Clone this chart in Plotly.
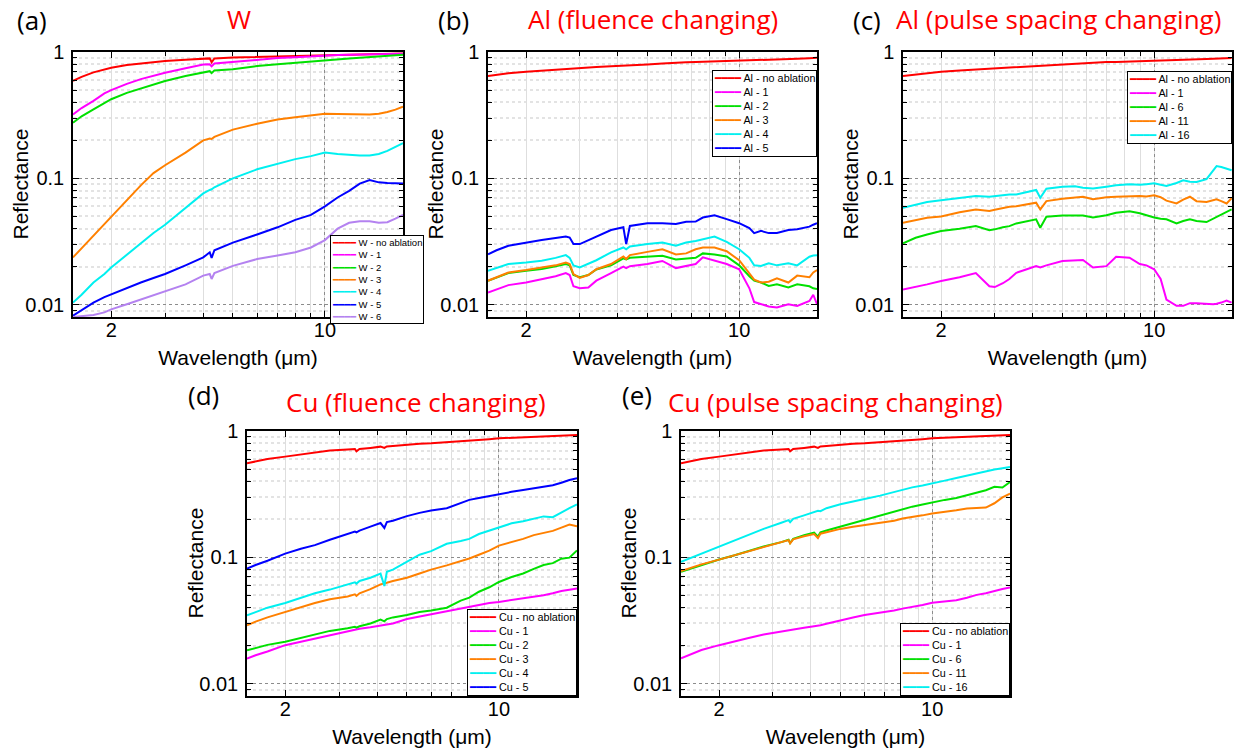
import math
import plotly.graph_objects as go

# ---------------- colours ----------------
RED = "#ff0000"
MAGENTA = "#ff00ff"
GREEN = "#00e000"
ORANGE = "#ff8000"
CYAN = "#00f0f0"
BLUE = "#0000ff"
PURPLE = "#b482f0"

# ---------------- (a) W ----------------
wl_a = [1.5, 1.6, 1.75, 1.9, 2.0, 2.25, 2.5, 2.75, 3.0, 3.5, 4.0, 4.2, 4.26, 4.35, 5.0, 6.0, 7.0,
        8.0, 9.0, 10.0, 11.0, 12.0, 13.0, 14.0, 15.0, 16.0, 17.0, 18.0]
W_no_ablation = [0.59, 0.635, 0.69, 0.73, 0.75, 0.79, 0.815, 0.835, 0.85, 0.87, 0.885, 0.89, 0.83, 0.89,
                 0.905, 0.915, 0.925, 0.935, 0.94, 0.945, 0.95, 0.955, 0.96, 0.965, 0.968, 0.97, 0.973, 0.975]
W_1 = [0.32, 0.36, 0.41, 0.47, 0.5, 0.56, 0.61, 0.65, 0.685, 0.745, 0.795, 0.80, 0.77, 0.81, 0.835,
       0.875, 0.895, 0.91, 0.925, 0.94, 0.945, 0.95, 0.955, 0.96, 0.963, 0.966, 0.968, 0.97]
W_2 = [0.276, 0.31, 0.352, 0.395, 0.423, 0.475, 0.516, 0.555, 0.59, 0.645, 0.695, 0.705, 0.68, 0.715,
       0.73, 0.775, 0.8, 0.823, 0.845, 0.864, 0.875, 0.888, 0.9, 0.91, 0.92, 0.93, 0.94, 0.95]
W_3 = [0.0237, 0.028, 0.035, 0.043, 0.0496, 0.067, 0.088, 0.11, 0.127, 0.16, 0.2, 0.207, 0.205, 0.213,
       0.243, 0.271, 0.292, 0.305, 0.316, 0.325, 0.323, 0.321, 0.32, 0.32, 0.325, 0.335, 0.35, 0.37]
W_4 = [0.0104, 0.012, 0.015, 0.0175, 0.0197, 0.025, 0.031, 0.037, 0.043, 0.058, 0.076, 0.081, 0.082,
       0.085, 0.1, 0.118, 0.13, 0.142, 0.15, 0.16, 0.156, 0.153, 0.152, 0.152, 0.156, 0.165, 0.177, 0.19]
W_5 = [0.0082, 0.009, 0.0104, 0.0115, 0.0121, 0.0135, 0.015, 0.0163, 0.0175, 0.0205, 0.0237, 0.026,
       0.0235, 0.027, 0.031, 0.036, 0.041, 0.047, 0.0514, 0.06, 0.0706, 0.0797, 0.091, 0.097, 0.093,
       0.092, 0.091, 0.091]
W_6 = [0.0080, 0.0081, 0.0083, 0.0087, 0.0092, 0.0101, 0.011, 0.0118, 0.0128, 0.0145, 0.017, 0.0175,
       0.016, 0.0178, 0.0203, 0.023, 0.0245, 0.026, 0.0284, 0.0325, 0.04, 0.0445, 0.0458, 0.0458,
       0.0445, 0.045, 0.048, 0.0515]
names_a = ["W - no ablation", "W - 1", "W - 2", "W - 3", "W - 4", "W - 5", "W - 6"]

# ---------------- (b) Al, fluence ----------------
wl_b = [1.5, 1.6, 1.75, 2.0, 2.25, 2.5, 2.7, 2.78, 2.86, 3.0, 3.2, 3.4, 3.8, 4.17, 4.26, 4.38, 5.0,
        5.6, 6.2, 6.7, 7.2, 7.6, 8.3, 9.1, 10.0, 10.8, 11.2, 11.8, 12.5, 13.3, 14.5, 15.5, 17.0,
        17.5, 18.0]
Alb_no_ablation = [0.646, 0.66, 0.68, 0.697, 0.712, 0.725, 0.732, 0.735, 0.74, 0.745, 0.752, 0.76,
                   0.77, 0.775, 0.776, 0.778, 0.795, 0.81, 0.825, 0.83, 0.832, 0.835, 0.84, 0.845,
                   0.85, 0.855, 0.857, 0.86, 0.865, 0.87, 0.878, 0.885, 0.893, 0.895, 0.9]
Alb_1 = [0.0125, 0.0132, 0.0143, 0.015, 0.016, 0.0168, 0.0178, 0.0172, 0.014, 0.0135, 0.0137, 0.0155,
         0.0178, 0.02, 0.0195, 0.0202, 0.021, 0.0222, 0.0195, 0.0203, 0.021, 0.0237, 0.0223, 0.021,
         0.0191, 0.0135, 0.0105, 0.0101, 0.0097, 0.0095, 0.0101, 0.0098, 0.0107, 0.012, 0.0101]
Alb_2 = [0.0155, 0.0165, 0.0178, 0.0186, 0.0192, 0.0202, 0.021, 0.0205, 0.0172, 0.0165, 0.0172, 0.019,
         0.0205, 0.0233, 0.0228, 0.0235, 0.0241, 0.0244, 0.0228, 0.023, 0.0235, 0.0255, 0.025, 0.0241,
         0.0205, 0.0168, 0.0155, 0.015, 0.0141, 0.0145, 0.0137, 0.0145, 0.014, 0.0135, 0.0133]
Alb_3 = [0.0155, 0.0165, 0.018, 0.0188, 0.0197, 0.0205, 0.0216, 0.021, 0.0175, 0.0163, 0.0172, 0.0191,
         0.021, 0.0241, 0.023, 0.0247, 0.0262, 0.0275, 0.025, 0.0255, 0.0275, 0.0284, 0.0284, 0.0265,
         0.0225, 0.0175, 0.0158, 0.015, 0.0152, 0.0162, 0.015, 0.017, 0.0165, 0.018, 0.0188]
Alb_4 = [0.0186, 0.0195, 0.021, 0.0216, 0.0223, 0.0235, 0.0247, 0.0235, 0.0205, 0.0197, 0.021, 0.0225,
         0.026, 0.0284, 0.0275, 0.0289, 0.0302, 0.0311, 0.0293, 0.0311, 0.032, 0.033, 0.0347, 0.0315,
         0.0275, 0.0235, 0.0205, 0.0203, 0.0213, 0.0205, 0.0213, 0.0205, 0.024, 0.0245, 0.0247]
Alb_5 = [0.0251, 0.027, 0.0293, 0.0311, 0.0325, 0.0337, 0.0347, 0.034, 0.0302, 0.0302, 0.0325, 0.0347,
         0.039, 0.041, 0.0302, 0.042, 0.0442, 0.0442, 0.0435, 0.0453, 0.0455, 0.049, 0.0511, 0.0476,
         0.0442, 0.0405, 0.0369, 0.0384, 0.0369, 0.0369, 0.039, 0.0396, 0.0415, 0.043, 0.0442]
names_b = ["Al - no ablation", "Al - 1", "Al - 2", "Al - 3", "Al - 4", "Al - 5"]

# ---------------- (c) Al, pulse spacing ----------------
wl_c = [1.5, 1.65, 1.8, 2.0, 2.3, 2.6, 2.88, 3.0, 3.19, 3.35, 3.53, 3.8, 4.1, 4.23, 4.43, 5.0, 5.5,
        5.84, 6.3, 6.97, 7.5, 8.3, 8.97, 9.43, 10.0, 10.5, 10.97, 11.84, 12.45, 13.1, 13.77, 14.85,
        15.62, 16.02, 16.6, 17.28, 17.95]
Alc_no_ablation = [0.646, 0.665, 0.68, 0.697, 0.715, 0.728, 0.735, 0.74, 0.748, 0.755, 0.76, 0.768,
                   0.775, 0.776, 0.78, 0.795, 0.808, 0.815, 0.826, 0.833, 0.835, 0.84, 0.844, 0.846,
                   0.849, 0.852, 0.855, 0.86, 0.865, 0.87, 0.874, 0.88, 0.885, 0.887, 0.89, 0.894, 0.897]
Alc_1 = [0.0132, 0.0138, 0.0145, 0.0154, 0.0165, 0.0178, 0.014, 0.0138, 0.0148, 0.016, 0.0179, 0.019,
         0.0202, 0.0197, 0.0205, 0.0222, 0.0224, 0.0226, 0.0197, 0.0202, 0.024, 0.0236, 0.021, 0.0205,
         0.0191, 0.016, 0.011, 0.0098, 0.0098, 0.0103, 0.0103, 0.0101, 0.0101, 0.0102, 0.0104, 0.0108,
         0.0104]
Alc_6 = [0.0306, 0.0339, 0.036, 0.0383, 0.04, 0.0419, 0.0389, 0.0395, 0.041, 0.0419, 0.044, 0.0455,
         0.0474, 0.0407, 0.0497, 0.0509, 0.051, 0.0509, 0.049, 0.051, 0.0535, 0.055, 0.053, 0.051,
         0.049, 0.048, 0.0474, 0.044, 0.046, 0.0474, 0.046, 0.0451, 0.048, 0.049, 0.051, 0.054, 0.0568]
Alc_11 = [0.0446, 0.047, 0.0488, 0.05, 0.054, 0.0568, 0.0552, 0.0565, 0.0585, 0.0597, 0.0603, 0.062,
          0.0642, 0.0568, 0.0661, 0.069, 0.0705, 0.0716, 0.0684, 0.071, 0.0716, 0.0725, 0.0725, 0.072,
          0.0734, 0.071, 0.0667, 0.0633, 0.068, 0.0716, 0.066, 0.0651, 0.0668, 0.0684, 0.066, 0.0633,
          0.0697]
Alc_16 = [0.0586, 0.062, 0.065, 0.067, 0.07, 0.0725, 0.0716, 0.0725, 0.074, 0.0747, 0.0747, 0.078,
          0.0809, 0.0703, 0.0829, 0.0859, 0.0865, 0.0843, 0.083, 0.086, 0.0881, 0.0897, 0.089, 0.09,
          0.0913, 0.089, 0.0871, 0.092, 0.0964, 0.094, 0.0936, 0.0985, 0.115, 0.125, 0.123, 0.12, 0.116]
names_c = ["Al - no ablation", "Al - 1", "Al - 6", "Al - 11", "Al - 16"]

# ---------------- (d) Cu, fluence ----------------
wl_d = [1.5, 1.6, 1.75, 2.0, 2.25, 2.5, 2.8, 3.2, 3.38, 3.42, 3.5, 3.8, 4.1, 4.22, 4.3, 4.5, 5.0, 5.5,
        6.0, 6.75, 7.5, 8.0, 8.6, 9.3, 10.0, 11.0, 12.0, 13.0, 14.0, 15.0, 16.0, 17.0, 18.0]
Cud_no_ablation = [0.556, 0.575, 0.6, 0.627, 0.65, 0.668, 0.7, 0.715, 0.72, 0.69, 0.72, 0.735, 0.752,
                   0.734, 0.755, 0.762, 0.78, 0.792, 0.8, 0.814, 0.83, 0.84, 0.849, 0.862, 0.875,
                   0.885, 0.895, 0.905, 0.912, 0.918, 0.922, 0.926, 0.93]
Cud_1 = [0.0158, 0.0168, 0.018, 0.0202, 0.0215, 0.0228, 0.0242, 0.0262, 0.0269, 0.0269, 0.0272, 0.028,
         0.029, 0.029, 0.0293, 0.03, 0.0325, 0.034, 0.0352, 0.037, 0.039, 0.0405, 0.042, 0.0435,
         0.0444, 0.046, 0.047, 0.049, 0.0501, 0.052, 0.0542, 0.0555, 0.0566]
Cud_2 = [0.0184, 0.0192, 0.0203, 0.0215, 0.023, 0.0243, 0.0262, 0.0275, 0.0282, 0.0278, 0.0285, 0.03,
         0.0322, 0.0312, 0.0325, 0.0335, 0.035, 0.037, 0.038, 0.04, 0.0455, 0.048, 0.0535, 0.058,
         0.0639, 0.07, 0.0745, 0.081, 0.087, 0.09, 0.0976, 0.0995, 0.1136]
Cud_3 = [0.029, 0.031, 0.0335, 0.037, 0.04, 0.0435, 0.0466, 0.049, 0.051, 0.0495, 0.052, 0.056,
         0.0612, 0.062, 0.063, 0.065, 0.069, 0.0745, 0.08, 0.0865, 0.093, 0.098, 0.105, 0.113, 0.124,
         0.132, 0.14, 0.15, 0.157, 0.162, 0.172, 0.182, 0.176]
Cud_4 = [0.0348, 0.037, 0.04, 0.0436, 0.048, 0.052, 0.0556, 0.061, 0.0635, 0.062, 0.065, 0.069,
         0.0743, 0.0594, 0.077, 0.08, 0.093, 0.105, 0.112, 0.128, 0.135, 0.14, 0.153, 0.163, 0.174,
         0.186, 0.193, 0.203, 0.211, 0.208, 0.228, 0.245, 0.262]
Cud_5 = [0.0814, 0.087, 0.094, 0.107, 0.117, 0.125, 0.138, 0.152, 0.16, 0.158, 0.163, 0.175, 0.187,
         0.171, 0.19, 0.195, 0.212, 0.225, 0.235, 0.245, 0.27, 0.285, 0.295, 0.307, 0.318, 0.33,
         0.342, 0.352, 0.362, 0.372, 0.39, 0.41, 0.423]
names_d = ["Cu - no ablation", "Cu - 1", "Cu - 2", "Cu - 3", "Cu - 4", "Cu - 5"]

# ---------------- (e) Cu, pulse spacing ----------------
wl_e = wl_d
Cue_no_ablation = [0.556, 0.575, 0.6, 0.627, 0.65, 0.668, 0.7, 0.715, 0.72, 0.69, 0.72, 0.735, 0.752,
                   0.734, 0.755, 0.762, 0.78, 0.792, 0.8, 0.814, 0.83, 0.84, 0.849, 0.862, 0.875,
                   0.885, 0.895, 0.905, 0.912, 0.918, 0.922, 0.926, 0.93]
Cue_1 = [0.0159, 0.017, 0.0185, 0.0202, 0.0215, 0.023, 0.0245, 0.026, 0.0265, 0.0265, 0.0268, 0.0278,
         0.0285, 0.0287, 0.029, 0.0298, 0.0318, 0.0334, 0.035, 0.0364, 0.038, 0.0393, 0.0404, 0.042,
         0.0437, 0.0447, 0.0458, 0.048, 0.0505, 0.052, 0.0545, 0.0562, 0.0578]
Cue_6 = [0.0768, 0.081, 0.087, 0.0961, 0.104, 0.113, 0.122, 0.132, 0.138, 0.13, 0.14, 0.15, 0.157,
         0.146, 0.158, 0.163, 0.175, 0.185, 0.197, 0.212, 0.228, 0.24, 0.252, 0.262, 0.273, 0.285,
         0.295, 0.31, 0.325, 0.34, 0.362, 0.357, 0.395]
Cue_11 = [0.078, 0.082, 0.088, 0.096, 0.104, 0.112, 0.121, 0.131, 0.137, 0.129, 0.139, 0.147, 0.153,
          0.142, 0.154, 0.158, 0.168, 0.175, 0.18, 0.186, 0.195, 0.203, 0.21, 0.215, 0.222, 0.228,
          0.236, 0.244, 0.247, 0.248, 0.268, 0.298, 0.32]
Cue_16 = [0.0921, 0.098, 0.108, 0.122, 0.136, 0.151, 0.168, 0.188, 0.197, 0.19, 0.202, 0.215, 0.228,
          0.234, 0.232, 0.245, 0.263, 0.275, 0.29, 0.308, 0.33, 0.345, 0.358, 0.37, 0.383, 0.405,
          0.425, 0.445, 0.465, 0.48, 0.495, 0.507, 0.519]
names_e = ["Cu - no ablation", "Cu - 1", "Cu - 6", "Cu - 11", "Cu - 16"]

# ---------------- axis ticks ----------------
x_tick_vals = [2, 10]
x_tick_text = ["2", "10"]
x_minor_vals = [3, 4, 5, 6, 7, 8, 9]
y_tick_vals = [0.01, 0.1, 1]
y_tick_text = ["0.01", "0.1", "1"]
y_minor_vals = [0.009, 0.02, 0.03, 0.04, 0.05, 0.06, 0.07, 0.08, 0.09,
                0.2, 0.3, 0.4, 0.5, 0.6, 0.7, 0.8, 0.9]
x_range = [1.5, 18]
y_range = [0.008, 1.0]
x_title = "Wavelength (μm)"
y_title = "Reflectance"

W_px, H_px = 1236, 751

def px_dom_x(a, b):
    return [a / W_px, b / W_px]

def px_dom_y(top, bottom):
    return [1 - bottom / H_px, 1 - top / H_px]

panels = [
    dict(label="(a)", title="W", wl=wl_a,
         series=[W_no_ablation, W_1, W_2, W_3, W_4, W_5, W_6], names=names_a,
         colors=[RED, MAGENTA, GREEN, ORANGE, CYAN, BLUE, PURPLE],
         xd=(73, 403), yd=(52, 317), lab_x=32, tit_x=239, lab_y=19.5, tit_y=18.5, yt_x=20,
         leg=dict(x=330, y=235, xanchor="left", yanchor="top", size=9.5)),
    dict(label="(b)", title="Al (fluence changing)", wl=wl_b,
         series=[Alb_no_ablation, Alb_1, Alb_2, Alb_3, Alb_4, Alb_5], names=names_b,
         colors=[RED, MAGENTA, GREEN, ORANGE, CYAN, BLUE],
         xd=(488, 817), yd=(52, 317), lab_x=453, tit_x=653, lab_y=19.5, tit_y=18.5, yt_x=435,
         leg=dict(x=817, y=70, xanchor="right", yanchor="top", size=10.8)),
    dict(label="(c)", title="Al (pulse spacing changing)", wl=wl_c,
         series=[Alc_no_ablation, Alc_1, Alc_6, Alc_11, Alc_16], names=names_c,
         colors=[RED, MAGENTA, GREEN, ORANGE, CYAN],
         xd=(903, 1232), yd=(52, 317), lab_x=867, tit_x=1058, lab_y=19.5, tit_y=18.5, yt_x=850,
         leg=dict(x=1232, y=71, xanchor="right", yanchor="top", size=10.8)),
    dict(label="(d)", title="Cu (fluence changing)", wl=wl_d,
         series=[Cud_no_ablation, Cud_1, Cud_2, Cud_3, Cud_4, Cud_5], names=names_d,
         colors=[RED, MAGENTA, GREEN, ORANGE, CYAN, BLUE],
         xd=(247, 577), yd=(431, 696), lab_x=203, tit_x=416, lab_y=395.5, tit_y=402, yt_x=195,
         leg=dict(x=577, y=696, xanchor="right", yanchor="bottom", size=10.8)),
    dict(label="(e)", title="Cu (pulse spacing changing)", wl=wl_e,
         series=[Cue_no_ablation, Cue_1, Cue_6, Cue_11, Cue_16], names=names_e,
         colors=[RED, MAGENTA, GREEN, ORANGE, CYAN],
         xd=(681, 1010), yd=(431, 696), lab_x=637, tit_x=835, lab_y=395.5, tit_y=402, yt_x=628,
         leg=dict(x=1010, y=696, xanchor="right", yanchor="bottom", size=10.8)),
]

fig = go.Figure()
annotations = []
layout_axes = {}
TICK_FONT = dict(family="Liberation Sans, Arial, sans-serif", size=20, color="black")
TITLE_FONT = dict(family="Liberation Sans, Arial, sans-serif", size=21, color="black")
n_pan = len(panels)

for i, p in enumerate(panels, start=1):
    xs = "" if i == 1 else str(i)
    xid, yid = "x" + xs, "y" + xs
    ov = str(n_pan + i)
    for ys, name, col in zip(p["series"], p["names"], p["colors"]):
        fig.add_trace(go.Scatter(x=p["wl"], y=ys, mode="lines", name=name,
                                 line=dict(color=col, width=2), xaxis=xid, yaxis=yid,
                                 showlegend=False))
    # empty trace that carries the overlay axis (decade grid line at 10 µm)
    fig.add_trace(go.Scatter(x=[], y=[], xaxis="x" + ov, yaxis=yid, showlegend=False,
                             hoverinfo="skip"))

    layout_axes["xaxis" + xs] = dict(
        type="log", range=[math.log10(x_range[0]), math.log10(x_range[1])],
        domain=px_dom_x(*p["xd"]), anchor=yid, automargin=False,
        tickmode="array", tickvals=x_tick_vals, ticktext=x_tick_text,
        ticks="inside", ticklen=6, tickwidth=1, tickcolor="black",
        showline=True, linecolor="black", linewidth=1.5, mirror="ticks",
        showgrid=True, gridcolor="#dedede", gridwidth=1,
        minor=dict(tickmode="array", tickvals=x_minor_vals, ticks="inside", ticklen=4,
                   tickcolor="black", showgrid=True, gridcolor="#dedede", gridwidth=1),
        tickfont=TICK_FONT, ticklabelstandoff=-6,
        title=dict(text=x_title, font=TITLE_FONT, standoff=11),
        zeroline=False,
    )
    layout_axes["xaxis" + ov] = dict(
        type="log", range=[math.log10(x_range[0]), math.log10(x_range[1])],
        overlaying=xid, anchor=yid, automargin=False, tickmode="array", tickvals=[10],
        showticklabels=False, ticks="", showline=False, zeroline=False,
        showgrid=True, gridcolor="#8c8c8c", griddash="dot", gridwidth=1,
    )
    layout_axes["yaxis" + xs] = dict(
        type="log", range=[math.log10(y_range[0]), math.log10(y_range[1])],
        domain=px_dom_y(*p["yd"]), anchor=xid, automargin=False,
        tickmode="array", tickvals=y_tick_vals, ticktext=y_tick_text,
        ticks="inside", ticklen=6, tickwidth=1, tickcolor="black",
        showline=True, linecolor="black", linewidth=1.5, mirror="ticks",
        showgrid=True, gridcolor="#8c8c8c", griddash="dot", gridwidth=1,
        minor=dict(tickmode="array", tickvals=y_minor_vals, ticks="inside", ticklen=4,
                   tickcolor="black", showgrid=True, gridcolor="#e3e3e3", gridwidth=1.5),
        tickfont=TICK_FONT, ticklabelstandoff=3,
        zeroline=False,
    )

    # y-axis title, placed beside the tick labels
    ymid = (p["yd"][0] + p["yd"][1]) / 2
    annotations.append(dict(text=y_title, xref="paper", yref="paper",
                            x=p["yt_x"] / W_px, y=1 - ymid / H_px, textangle=-90,
                            xanchor="center", yanchor="middle", showarrow=False,
                            font=TITLE_FONT))

    # panel letter and coloured title
    annotations.append(dict(text=p["label"], xref="paper", yref="paper",
                            x=p["lab_x"] / W_px, y=1 - p["lab_y"] / H_px,
                            xanchor="center", yanchor="middle", showarrow=False,
                            font=dict(family="Open Sans, sans-serif", size=26, color="black")))
    annotations.append(dict(text=p["title"], xref="paper", yref="paper",
                            x=p["tit_x"] / W_px, y=1 - p["tit_y"] / H_px,
                            xanchor="center", yanchor="middle", showarrow=False,
                            font=dict(family="Open Sans, sans-serif", size=26, color=RED)))

    # legend box built from the series names and colours
    lines = [f'<span style="color:{c};font-family:DejaVu Sans Mono">━━━━</span> {n}'
             for n, c in zip(p["names"], p["colors"])]
    lg = p["leg"]
    annotations.append(dict(text="<br>".join(lines), xref="paper", yref="paper",
                            x=lg["x"] / W_px, y=1 - lg["y"] / H_px,
                            xanchor=lg["xanchor"], yanchor=lg["yanchor"], align="left",
                            showarrow=False, bgcolor="white", bordercolor="black",
                            borderwidth=1, borderpad=1,
                            font=dict(family="Liberation Sans, Arial, sans-serif",
                                      size=lg["size"], color="black")))

fig.update_layout(
    template="none",
    width=W_px, height=H_px,
    margin=dict(l=0, r=0, t=0, b=0, autoexpand=False),
    paper_bgcolor="white", plot_bgcolor="white",
    showlegend=False,
    annotations=annotations,
    **layout_axes,
)

fig.write_html("out.html")
